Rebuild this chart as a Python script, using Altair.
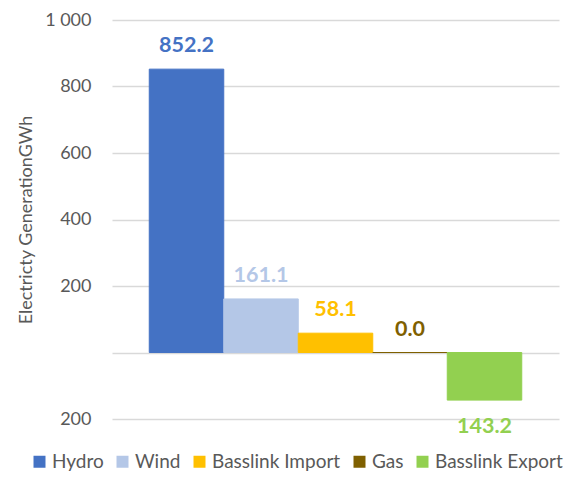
import altair as alt
import pandas as pd

categories = ["Hydro", "Wind", "Basslink Import", "Gas", "Basslink Export"]
values = [852.2, 161.1, 58.1, 0.0, -143.2]
colors = ["#4472C4", "#B4C7E7", "#FFC000", "#7F6000", "#92D050"]
y_ticks = [-200, 0, 200, 400, 600, 800, 1000]

df = pd.DataFrame({"source": categories, "value": values})
df["label"] = [f"{abs(v):.1f}" for v in values]
df["pos"] = df["value"] >= 0

color_scale = alt.Scale(domain=categories, range=colors)

base = alt.Chart(df).encode(
    x=alt.X("source:N", sort=categories, axis=None,
            scale=alt.Scale(paddingInner=0, paddingOuter=0.5)),
)

bars = base.mark_bar(strokeWidth=1).encode(
    y=alt.Y("value:Q",
            scale=alt.Scale(domain=[-200, 1000], nice=False),
            axis=alt.Axis(values=y_ticks, title="Electricty GenerationGWh",
                          labelExpr="datum.value == 0 ? '' : replace(format(abs(datum.value), ','), ',', ' ')",
                          ticks=False, domain=False, labelPadding=21,
                          labelFontSize=18, labelColor="#595959", labelFont="Lato",
                          titleFont="Lato", titleFontSize=18, titleFontWeight="normal",
                          titleColor="#595959", titlePadding=9,
                          gridColor="#d9d9d9", gridWidth=1.3)),
    color=alt.Color("source:N", scale=color_scale, sort=categories,
                    legend=alt.Legend(title=None, orient="none", direction="horizontal",
                                      legendX=-82, legendY=432,
                                      symbolType="square", symbolSize=144,
                                      symbolStrokeWidth=0,
                                      labelFont="Lato", labelFontSize=19,
                                      labelColor="#595959", columnPadding=9,
                                      labelOffset=3)),
    stroke=alt.Stroke("source:N", scale=color_scale, legend=None),
)

labels_pos = base.transform_filter("datum.pos").mark_text(
    dy=-23, fontSize=21.5, fontWeight="bold", font="Lato", baseline="middle"
).encode(
    y="value:Q",
    text="label:N",
    color=alt.Color("source:N", scale=color_scale, legend=None),
)

labels_neg = base.transform_filter("!datum.pos").mark_text(
    dy=27, fontSize=21.5, fontWeight="bold", font="Lato", baseline="middle"
).encode(
    y="value:Q",
    text="label:N",
    color=alt.Color("source:N", scale=color_scale, legend=None),
)

chart = alt.layer(bars, labels_pos, labels_neg).properties(
    width=447, height=399,
    autosize=alt.AutoSizeParams(type="none"),
    padding={"left": 104, "top": 12, "right": 12, "bottom": 52},
).configure_view(stroke=None)

chart.save("out.html", embed_options={"renderer": "svg", "actions": False})
